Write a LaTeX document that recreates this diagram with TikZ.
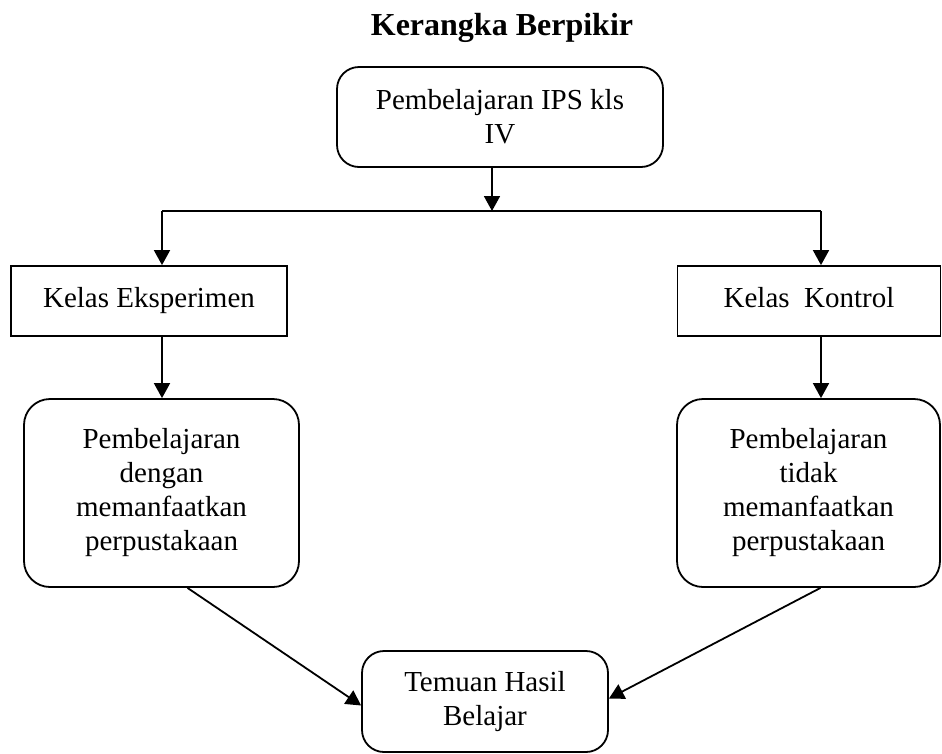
\documentclass[tikz,border=0pt]{standalone}
\usepackage{fontspec}
\setmainfont{Liberation Serif}
\usetikzlibrary{arrows.meta}
\begin{document}
\begin{tikzpicture}[x=1pt,y=-1pt,
  every node/.style={font=\fontsize{29}{34}\selectfont, align=center, inner sep=0pt},
  sqbox/.style={draw, line width=1.8pt, text height=20pt, text depth=7pt},
  rbox/.style={draw, line width=1.8pt, rounded corners=22pt},
  rbbox/.style={draw, line width=1.8pt, rounded corners=26pt},
  arr/.style={line width=1.8pt, -{Triangle[width=16pt,length=15pt]}},
  ln/.style={line width=1.8pt}]
\useasboundingbox (0,0) rectangle (942,753);
\node[font=\fontsize{32}{38}\selectfont\bfseries, anchor=base] (title) at (502,35) {Kerangka Berpikir};
\node[rbox, minimum width=326pt, minimum height=100pt] (top) at (500,117) {Pembelajaran IPS kls\\IV};
\coordinate (hl) at (162,211);
\coordinate (hm) at (492,211);
\coordinate (hr) at (821,211);
\node[sqbox, minimum width=276pt, minimum height=70pt] (eks) at (149,301) {Kelas Eksperimen};
\node[sqbox, minimum width=263pt, minimum height=70pt] (kon) at (809,301) {Kelas\ \ Kontrol};
\node[rbbox, minimum width=275pt, minimum height=188pt] (pl) at (161.5,493) {Pembelajaran\\dengan\\memanfaatkan\\perpustakaan};
\node[rbbox, minimum width=263pt, minimum height=188pt] (pr) at (808.5,493) {Pembelajaran\\tidak\\memanfaatkan\\perpustakaan};
\node[rbox, minimum width=246pt, minimum height=101pt] (tem) at (485,701.5) {Temuan Hasil\\Belajar};
\draw[ln] (hl) -- (hr);
\draw[arr] (top.south -| hm) -- (hm);
\draw[arr] (hl) -- (hl |- eks.north);
\draw[arr] (hr) -- (hr |- kon.north);
\draw[arr] (hl |- eks.south) -- (hl |- pl.north);
\draw[arr] (hr |- kon.south) -- (hr |- pr.north);
\draw[arr] ([xshift=26pt]pl.south) -- ([yshift=-4pt]tem.west);
\draw[arr] ([xshift=12pt]pr.south) -- ([yshift=3pt]tem.east);
\end{tikzpicture}
\end{document}
